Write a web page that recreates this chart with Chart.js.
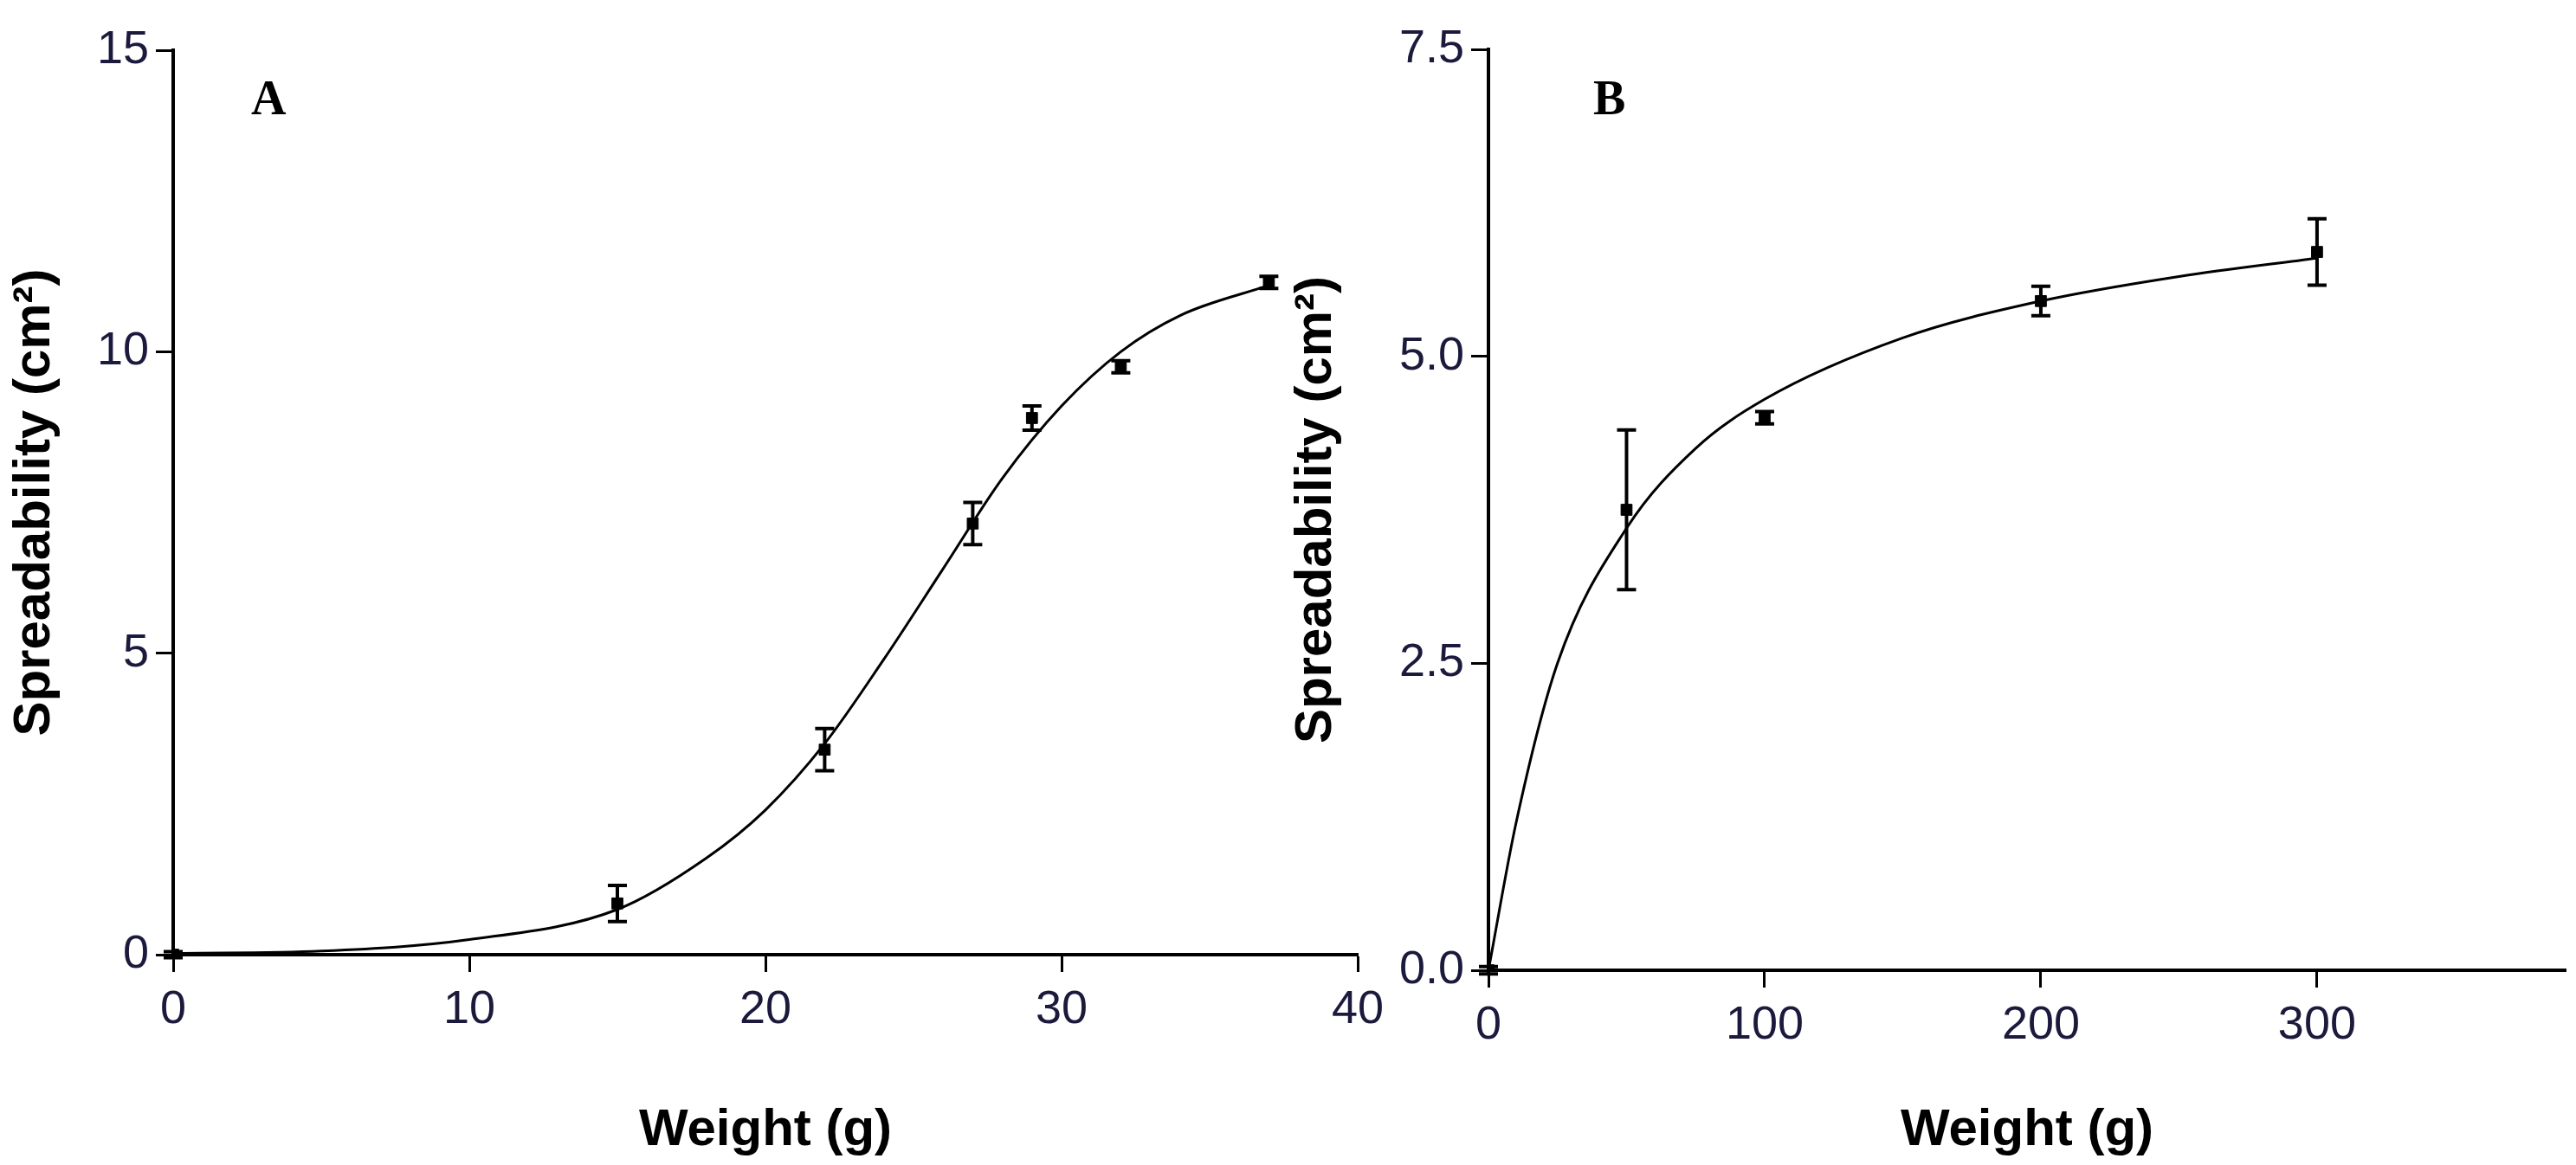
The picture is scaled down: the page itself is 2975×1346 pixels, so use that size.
<!DOCTYPE html>
<html>
<head>
<meta charset="utf-8">
<script src="https://cdn.jsdelivr.net/npm/chart.js"></script>
<style>
  body { margin: 0; background: white; width: 2975px; height: 1346px; position: relative; overflow: hidden; }
  .box { position: absolute; top: 0; height: 1346px; }
  #boxA { left: 0; width: 1650px; }
  #boxB { left: 1480px; width: 1495px; }
</style>
</head>
<body>
<div class="box" id="boxA"><canvas id="chartA"></canvas></div>
<div class="box" id="boxB"><canvas id="chartB"></canvas></div>
<script>
// Panel A: measured points
const weightA = [0, 15, 22, 27, 29, 32, 37];
const spreadA = [0, 0.85, 3.4, 7.15, 8.9, 9.75, 11.15];
const errA = [0.05, 0.3, 0.35, 0.35, 0.2, 0.1, 0.1];
// Panel A: fitted curve
const fitWeightA = [0, 5, 10, 15, 18, 20, 22, 24, 26, 28, 30, 32, 34, 37];
const fitSpreadA = [0.02, 0.06, 0.25, 0.75, 1.6, 2.4, 3.5, 4.9, 6.4, 7.9, 9.1, 10.0, 10.6, 11.1];
const ticksA = [0, 10, 20, 30, 40];

// Panel B: measured points
const weightB = [0, 50, 100, 200, 300];
const spreadB = [0, 3.75, 4.5, 5.45, 5.85];
const errB = [0.03, 0.65, 0.05, 0.12, 0.27];
// Panel B: fitted curve
const fitWeightB = [0, 10, 25, 50, 75, 100, 150, 200, 250, 300];
const fitSpreadB = [0, 1.2, 2.5, 3.6, 4.25, 4.65, 5.15, 5.45, 5.65, 5.8];
const ticksB = [0, 100, 200, 300];

const tickFont = { family: 'Liberation Sans, Arial', size: 54 };
const titleFont = { family: 'Liberation Sans Narrow, Liberation Sans, Arial', size: 60, weight: 'bold' };
const tickColor = '#1c1a3c';

const errorBars = {
  id: 'errorBars',
  afterDatasetsDraw(chart, args, opts) {
    const { ctx, scales: { x, y } } = chart;
    ctx.save();
    ctx.strokeStyle = '#000';
    ctx.lineWidth = 4;
    opts.xs.forEach((v, i) => {
      const px = x.getPixelForValue(v);
      const top = y.getPixelForValue(opts.ys[i] + opts.err[i]);
      const bot = y.getPixelForValue(opts.ys[i] - opts.err[i]);
      ctx.beginPath();
      ctx.moveTo(px, top); ctx.lineTo(px, bot);
      ctx.moveTo(px - 11, top); ctx.lineTo(px + 11, top);
      ctx.moveTo(px - 11, bot); ctx.lineTo(px + 11, bot);
      ctx.stroke();
    });
    ctx.restore();
  }
};

const panelLabel = {
  id: 'panelLabel',
  afterDraw(chart, args, opts) {
    const { ctx } = chart;
    ctx.save();
    ctx.font = 'bold 56px "Liberation Serif", "Times New Roman", serif';
    ctx.fillStyle = '#000';
    ctx.textBaseline = 'middle';
    ctx.fillText(opts.text, opts.x, opts.y);
    ctx.restore();
  }
};

function makeChart(id, cfg) {
  return new Chart(document.getElementById(id), {
    type: 'scatter',
    data: {
      datasets: [
        {
          data: cfg.fx.map((v, i) => ({ x: v, y: cfg.fy[i] })),
          showLine: true, borderColor: '#000', borderWidth: 3,
          pointRadius: 0, cubicInterpolationMode: 'monotone', fill: false
        },
        {
          data: cfg.px.map((v, i) => ({ x: v, y: cfg.py[i] })),
          showLine: false, pointStyle: 'rect', pointRadius: 9,
          backgroundColor: '#000', borderColor: '#000'
        }
      ]
    },
    plugins: [errorBars, panelLabel],
    options: {
      responsive: true, maintainAspectRatio: false, animation: false,
      layout: { padding: cfg.padding },
      plugins: {
        legend: { display: false }, tooltip: { enabled: false },
        errorBars: { xs: cfg.px, ys: cfg.py, err: cfg.err },
        panelLabel: cfg.label
      },
      scales: {
        x: {
          type: 'linear', min: 0, max: cfg.xMax,
          afterBuildTicks: s => { s.ticks = cfg.xTicks.map(v => ({ value: v })); },
          afterFit: s => { s.height = cfg.xHeight; },
          border: { color: '#000', width: 4 },
          grid: { drawOnChartArea: false, tickLength: 20, tickColor: '#000', tickWidth: 3 },
          ticks: { color: tickColor, font: tickFont, padding: 12, maxRotation: 0,
                   callback: v => v },
          title: { display: true, text: 'Weight (g)', color: '#000', font: titleFont, padding: { top: 28 } }
        },
        y: {
          min: 0, max: cfg.yMax,
          afterBuildTicks: s => { s.ticks = cfg.yTicks.map(v => ({ value: v })); },
          afterFit: s => { s.width = cfg.yWidth; },
          border: { color: '#000', width: 4 },
          grid: { drawOnChartArea: false, tickLength: 20, tickColor: '#000', tickWidth: 3 },
          ticks: { color: tickColor, font: tickFont, padding: 8, callback: cfg.yFmt },
          title: { display: true, text: 'Spreadability (cm²)', color: '#000', font: titleFont, padding: { bottom: 10 } }
        }
      }
    }
  });
}

makeChart('chartA', {
  fx: fitWeightA, fy: fitSpreadA, px: weightA, py: spreadA, err: errA,
  xMax: 40, xTicks: ticksA, yMax: 15, yTicks: [0, 5, 10, 15], yFmt: v => v,
  xHeight: 243, yWidth: 200,
  padding: { top: 58, right: 82, left: 0, bottom: 0 },
  label: { text: 'A', x: 290, y: 118 }
});

makeChart('chartB', {
  fx: fitWeightB, fy: fitSpreadB, px: weightB, py: spreadB, err: errB,
  xMax: 390, xTicks: ticksB, yMax: 7.5, yTicks: [0, 2.5, 5, 7.5], yFmt: v => v.toFixed(1),
  xHeight: 225, yWidth: 239,
  padding: { top: 57, right: 12, left: 0, bottom: 0 },
  label: { text: 'B', x: 360, y: 118 }
});
</script>
</body>
</html>
